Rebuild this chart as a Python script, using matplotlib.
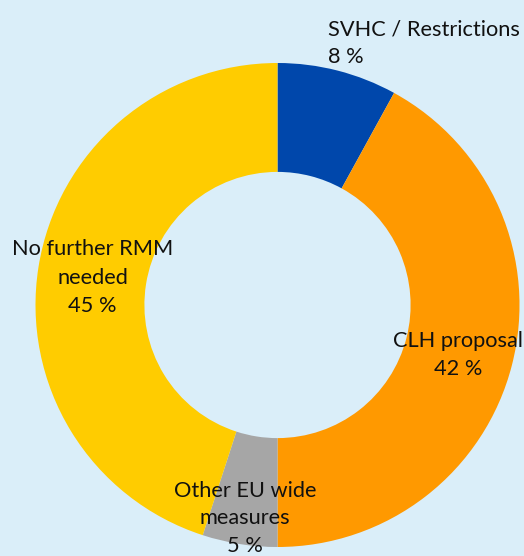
import matplotlib
matplotlib.use("Agg")
import matplotlib.pyplot as plt

categories = ["SVHC / Restrictions", "CLH proposal", "Other EU wide measures", "No further RMM needed"]
values = [8, 42, 5, 45]
colors = ["#0047AB", "#FF9900", "#A6A6A6", "#FFCC00"]
label_lines = [
    ["SVHC / Restrictions", "8 %"],
    ["CLH proposal", "42 %"],
    ["Other EU wide", "measures", "5 %"],
    ["No further RMM", "needed", "45 %"],
]

W, H = 524, 556
bg = "#DAEEF9"
fig = plt.figure(figsize=(W / 100, H / 100), dpi=100, facecolor=bg)
ax = fig.add_axes([0, 0, 1, 1])
ax.set_facecolor(bg)

cx, cy, R = 277.5, H - 305, 242
ax.pie(values, colors=colors, startangle=90, counterclock=False,
       center=(cx, cy), radius=R, frame=True,
       wedgeprops=dict(width=R * 0.45, linewidth=0))
ax.set_xlim(0, W)
ax.set_ylim(0, H)
ax.axis("off")

font = ["Lato", "DejaVu Sans"]
fs = 15.7
# (x anchor, first baseline y in px from top, ha, line spacing)
label_pos = [
    (328, 35, "left", 28),
    (458, 347, "center", 28),
    (245, 497, "center", 27.5),
    (92.5, 255, "center", 28.5),
]
for lines, (x, y0, ha, ls) in zip(label_lines, label_pos):
    for i, line in enumerate(lines):
        ax.text(x, H - (y0 + i * ls), line, ha=ha, va="baseline",
                fontsize=fs, family=font, color="#111111")

fig.savefig("out.png", dpi=100, facecolor=bg)
